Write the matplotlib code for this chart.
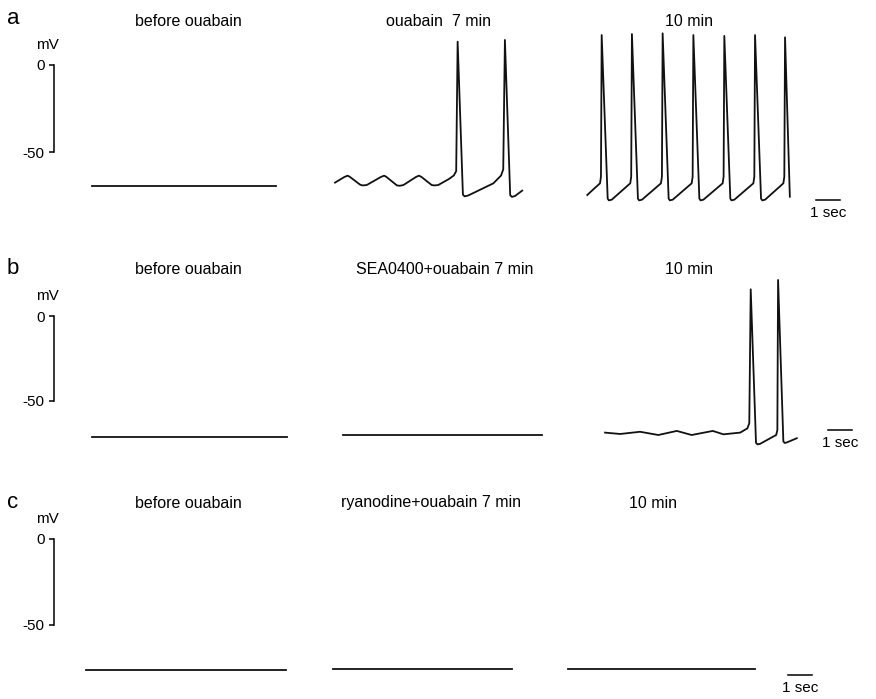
import matplotlib
matplotlib.use("Agg")
import matplotlib.pyplot as plt
import numpy as np

# --- datos (tiempo en s, potencial en mV) ---
titulos_a = ["before ouabain", "ouabain  7 min", "10 min"]
titulos_b = ["before ouabain", "SEA0400+ouabain 7 min", "10 min"]
titulos_c = ["before ouabain", "ryanodine+ouabain 7 min", "10 min"]
letras = ["a", "b", "c"]

# fila a
a1_t = [0.00, 7.67]
a1_v = [-69.5, -69.5]
a2_t = [0.00, 0.40, 0.53, 0.62, 1.05, 1.15, 1.32, 1.92, 2.05, 2.14, 2.58, 2.70,
        2.85, 3.38, 3.50, 3.60, 4.03, 4.15, 4.30, 4.75, 4.95, 5.05, 5.11, 5.33,
        5.40, 5.55, 6.60, 6.92, 7.01, 7.08, 7.30, 7.37, 7.50, 7.80]
a2_v = [-67.6, -64.3, -63.6, -64.3, -68.8, -69.2, -69.0, -64.3, -63.6, -64.3, -69.2, -69.4,
        -69.0, -64.3, -63.6, -64.3, -69.0, -69.2, -69.0, -65.5, -63.5, -61.0, 13.4, -74.5,
        -75.5, -75.0, -68.0, -63.5, -60.0, 14.4, -74.8, -75.8, -75.3, -72.2]
a3_t = [0.00, 0.25, 0.53, 0.57, 0.60, 0.85, 0.90, 1.02,
        1.79, 1.83, 1.86, 2.11, 2.16, 2.28,
        3.07, 3.11, 3.14, 3.39, 3.44, 3.56,
        4.35, 4.39, 4.42, 4.67, 4.72, 4.84,
        5.64, 5.68, 5.71, 5.96, 6.01, 6.13,
        6.92, 6.96, 6.99, 7.24, 7.29, 7.41,
        8.17, 8.21, 8.24, 8.44]
a3_v = [-74.7, -71.5, -68.0, -64.2, 17.2, -76.8, -77.8, -77.4,
        -68.0, -64.2, 17.8, -76.8, -77.8, -77.4,
        -68.0, -64.2, 18.2, -76.8, -77.8, -77.4,
        -68.0, -64.2, 17.2, -76.8, -77.8, -77.4,
        -68.0, -64.2, 16.7, -76.8, -77.8, -77.4,
        -68.0, -64.2, 17.2, -76.8, -77.8, -77.4,
        -68.0, -64.2, 15.9, -75.7]

# fila b
b1_t = [0.00, 8.12]
b1_v = [-71.2, -71.2]
b2_t = [0.00, 8.29]
b2_v = [-70.0, -70.0]
b3_t = [0.00, 0.63, 1.46, 2.22, 2.99, 3.61, 4.49, 4.93, 5.63, 5.93, 6.01,
        6.07, 6.29, 6.35, 6.46, 7.13, 7.18, 7.21, 7.43, 7.49, 7.57, 7.99]
b3_v = [-68.6, -69.4, -68.1, -70.0, -67.6, -70.0, -67.6, -69.6, -68.6, -66.1, -63.1,
        15.7, -74.6, -75.5, -75.2, -70.0, -67.1, 21.2, -73.8, -74.7, -74.4, -71.9]

# fila c
c1_t = [0.00, 8.33]
c1_v = [-76.2, -76.2]
c2_t = [0.00, 7.46]
c2_v = [-75.6, -75.6]
c3_t = [0.00, 7.79]
c3_v = [-75.6, -75.6]

escala_mv = [0, -50]
escala_seg = 1.0

# --- disposicion (pixeles de la figura) ---
W, H = 876, 699
X0_PX = 54
PX_SEG = 24
cero_px = [65, 316, 539]
mv_px = [1.74, 1.70, 1.72]
inicio_traza = [[1.583, 11.708, 22.22],
                [1.583, 12.04, 22.96],
                [1.333, 11.625, 21.42]]
barra_x = [31.75, 32.25, 30.58]
barra_y = [-77.6, -67.1, -79.1]
titulo_x = [[188, 438, 689], [188, 445, 689], [188, 431, 653]]
titulo_y = [21, 269, 503]
letra_y = [19, 268, 502]
YTOP, YBOT = 30, -95

trazas = [[(a1_t, a1_v), (a2_t, a2_v), (a3_t, a3_v)],
          [(b1_t, b1_v), (b2_t, b2_v), (b3_t, b3_v)],
          [(c1_t, c1_v), (c2_t, c2_v), (c3_t, c3_v)]]
titulos = [titulos_a, titulos_b, titulos_c]

plt.rcParams['font.family'] = ['Liberation Sans', 'DejaVu Sans']
negro = '#111111'

fig = plt.figure(figsize=(W / 100, H / 100), dpi=100)

for i in range(3):
    top = cero_px[i] - YTOP * mv_px[i]
    alto = (YTOP - YBOT) * mv_px[i]
    ax = fig.add_axes([X0_PX / W, 1 - (top + alto) / H, (W - X0_PX) / W, alto / H])
    ax.set_xlim(0, (W - X0_PX) / PX_SEG)
    ax.set_ylim(YBOT, YTOP)
    ax.patch.set_alpha(0)

    # escala vertical (0 / -50 mV)
    ax.spines['top'].set_visible(False)
    ax.spines['right'].set_visible(False)
    ax.spines['left'].set_bounds(min(escala_mv), max(escala_mv))
    ax.spines['left'].set_linewidth(1.1)
    ax.set_yticks(escala_mv)
    ax.set_yticklabels(['0', '-50'])
    ax.tick_params(axis='y', length=3.6, width=1.1, pad=3, labelsize=11)
    ax.annotate('mV', xy=(0, 0), xytext=(-5, 14.4), textcoords='offset points',
                ha='center', va='center', fontsize=11)

    # escala horizontal (1 sec)
    ax.spines['bottom'].set_position(('data', barra_y[i]))
    ax.spines['bottom'].set_bounds(barra_x[i], barra_x[i] + escala_seg)
    ax.spines['bottom'].set_linewidth(1.1)
    ax.set_xticks([])
    ax.annotate('1 sec', xy=(barra_x[i] + escala_seg / 2, barra_y[i]), xytext=(0, -9.4),
                textcoords='offset points', ha='center', va='center', fontsize=11)

    # trazas
    for j in range(3):
        t, v = trazas[i][j]
        ax.plot(inicio_traza[i][j] + np.array(t), v, color=negro, lw=1.3,
                clip_on=False, solid_joinstyle='round')
        fig.text(titulo_x[i][j] / W, 1 - titulo_y[i] / H, titulos[i][j],
                 ha='center', va='center', fontsize=11.5)

    fig.text(13 / W, 1 - letra_y[i] / H, letras[i], ha='center', va='center', fontsize=16)

fig.savefig('out.png', dpi=100)
